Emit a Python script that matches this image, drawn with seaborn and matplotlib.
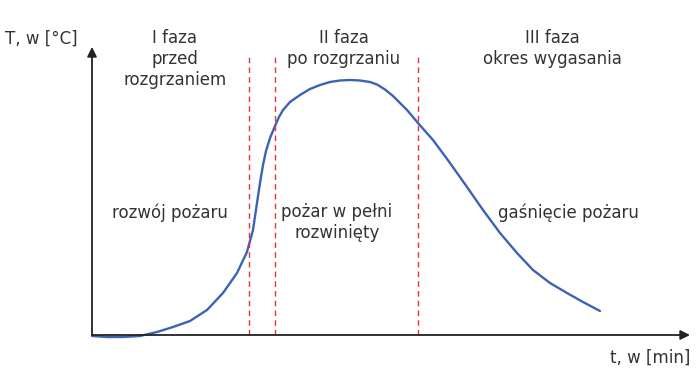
import matplotlib
matplotlib.use("Agg")
import matplotlib.pyplot as plt
import seaborn as sns
import pandas as pd

# curve (time, temperature, arbitrary units)
t_vals = [0, 15, 31, 48, 65, 81, 98, 115, 131, 145, 155, 161, 165, 168, 171, 174, 178,
          183, 187, 191, 198, 208, 218, 228, 238, 248, 258, 268, 278, 285, 293, 301, 308,
          315, 326, 341, 358, 375, 391, 408, 425, 441, 458, 475, 491, 508]
T_vals = [-1, -2, -2, -1, 3, 8, 14, 25, 42, 62, 83, 105, 132, 152, 170, 184, 197,
          209, 218, 225, 233, 240, 246, 250, 253, 254.5, 255, 254.5, 253, 250.5, 245.5, 239, 232,
          225, 212, 195, 172, 148, 125, 102, 82, 65, 52, 42, 33, 24]
phase_bounds = [157, 183, 326]
phase_titles = ["I faza\nprzed\nrozgrzaniem", "II faza\npo rozgrzaniu", "III faza\nokres wygasania"]
phase_title_x = [83, 252, 460]
phase_desc = ["rozwój pożaru", "pożar w pełni\nrozwinięty", "gaśnięcie pożaru"]
phase_desc_x = [78, 245, 476]
y_label = "T, w [°C]"
x_label = "t, w [min]"

sns.set_style("white")
plt.rcParams['font.family'] = ['DejaVu Sans']

fig = plt.figure(figsize=(7, 3.9), dpi=100)
ax = fig.add_axes([92/700, 55/390, 598/700, 288/390])
ax.set_xlim(0, 598)
ax.set_ylim(0, 288)

df = pd.DataFrame({"t": t_vals, "T": T_vals})
sns.lineplot(data=df, x="t", y="T", ax=ax, color="#3b63b5", linewidth=1.7, sort=False,
             clip_on=False, solid_joinstyle="round")

for xb in phase_bounds:
    ax.plot([xb, xb], [0, 278], color="#e8323c", linestyle=(0, (4, 3)), linewidth=1.0)

for s in ax.spines.values():
    s.set_visible(False)
ax.set_xticks([])
ax.set_yticks([])
ax.set_xlabel("")
ax.set_ylabel("")

# axes with arrows
ax.annotate("", xy=(598, 0), xytext=(0, 0), xycoords="data",
            arrowprops=dict(arrowstyle="-|>", color="#222222", lw=1.3, mutation_scale=14,
                            shrinkA=0, shrinkB=0), annotation_clip=False)
ax.annotate("", xy=(0, 288), xytext=(0, 0), xycoords="data",
            arrowprops=dict(arrowstyle="-|>", color="#222222", lw=1.3, mutation_scale=14,
                            shrinkA=0, shrinkB=0), annotation_clip=False)

tc = "#333333"
fs = 12
fig.text(5/700, 1 - 39/390, y_label, ha="left", va="center", fontsize=fs, color=tc)
fig.text(690/700, 1 - 358/390, x_label, ha="right", va="center", fontsize=fs, color=tc)

for txt, x in zip(phase_titles, phase_title_x):
    ax.text(x, 335 - 29, txt, ha="center", va="top", fontsize=fs, color=tc, linespacing=1.22)
for txt, x in zip(phase_desc, phase_desc_x):
    ax.text(x, 335 - 203, txt, ha="center", va="top", fontsize=fs, color=tc, linespacing=1.22)

fig.savefig("out.png", dpi=100)
